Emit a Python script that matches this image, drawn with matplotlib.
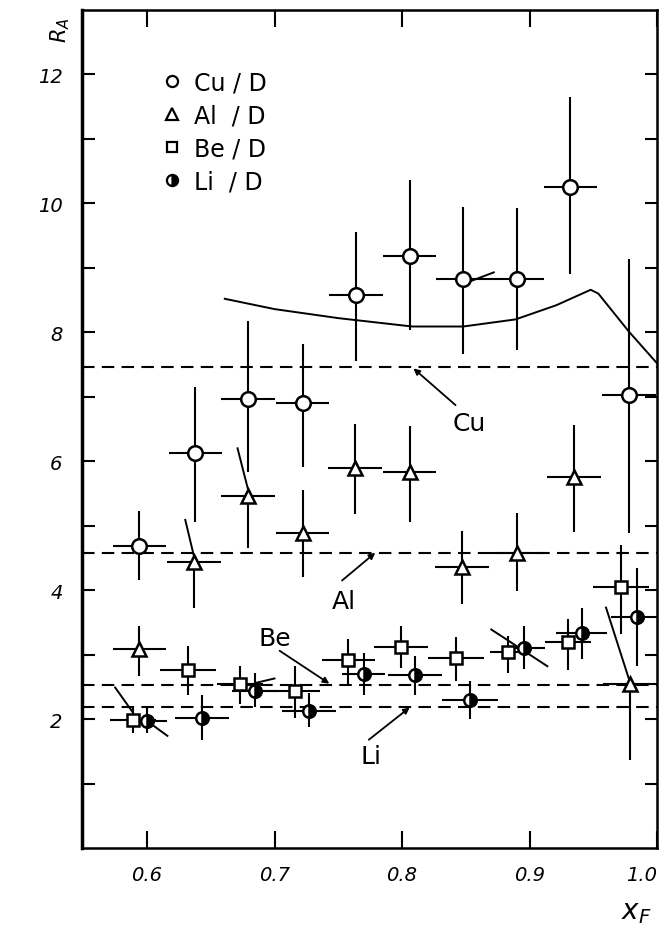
import matplotlib
matplotlib.use("Agg")
import matplotlib.pyplot as plt
from matplotlib.lines import Line2D
import numpy as np

plt.rcParams['font.family'] = ['DejaVu Sans']

# ---------------- data ----------------
cu_x = [0.594, 0.638, 0.679, 0.722, 0.764, 0.806, 0.848, 0.890, 0.932, 0.978]
cu_y = [4.69, 6.12, 6.96, 6.90, 8.58, 9.18, 8.82, 8.83, 10.26, 7.03]
cu_up = [0.54, 1.03, 1.21, 0.92, 0.97, 1.19, 1.12, 1.10, 1.39, 2.10]
cu_lo = [0.53, 1.06, 1.13, 0.99, 1.03, 1.14, 1.16, 1.10, 1.36, 2.15]
cu_xe = [0.021] * 10

al_x = [0.594, 0.637, 0.679, 0.722, 0.763, 0.806, 0.847, 0.890, 0.935, 0.979]
al_y = [3.08, 4.44, 5.46, 4.88, 5.90, 5.84, 4.36, 4.58, 5.76, 2.54]
al_up = [0.36, 0.0, 0.0, 0.68, 0.67, 0.70, 0.56, 0.61, 0.80, 0.0]
al_lo = [0.41, 0.71, 0.80, 0.68, 0.72, 0.78, 0.58, 0.59, 0.86, 1.17]
al_xe = [0.021] * 10

be_x = [0.589, 0.632, 0.673, 0.716, 0.758, 0.799, 0.842, 0.883, 0.930, 0.972]
be_y = [1.99, 2.76, 2.55, 2.44, 2.91, 3.12, 2.95, 3.04, 3.19, 4.05]
be_up = [0.19, 0.37, 0.27, 0.38, 0.33, 0.33, 0.33, 0.25, 0.37, 0.65]
be_lo = [0.20, 0.39, 0.32, 0.42, 0.37, 0.32, 0.36, 0.32, 0.43, 0.73]
be_xe = [0.018, 0.022, 0.018, 0.020, 0.021, 0.021, 0.022, 0.014, 0.018, 0.022]

li_x = [0.600, 0.643, 0.685, 0.727, 0.770, 0.810, 0.853, 0.896, 0.941, 0.984]
li_y = [1.97, 2.02, 2.44, 2.13, 2.70, 2.68, 2.29, 3.11, 3.33, 3.59]
li_up = [0.20, 0.35, 0.28, 0.28, 0.33, 0.30, 0.30, 0.33, 0.40, 0.75]
li_lo = [0.18, 0.34, 0.26, 0.26, 0.32, 0.30, 0.29, 0.33, 0.40, 0.77]
li_xe = [0.016, 0.021, 0.018, 0.021, 0.017, 0.021, 0.022, 0.016, 0.020, 0.020]

# theoretical curve (Cu)
curve_x = [0.661, 0.700, 0.750, 0.808, 0.848, 0.889, 0.921, 0.948, 0.954, 0.978, 1.000]
curve_y = [8.52, 8.36, 8.22, 8.09, 8.09, 8.20, 8.42, 8.66, 8.60, 8.01, 7.52]

# horizontal reference levels
levels = {'Cu': 7.46, 'Al': 4.58, 'Be': 2.53, 'Li': 2.19}

# slanted side strokes (x0, x1, y0, y1)
slants = [
    (0.630, 0.637, 5.09, 4.51),
    (0.671, 0.679, 6.20, 5.58),
    (0.575, 0.589, 2.49, 2.10),
    (0.600, 0.616, 1.97, 1.74),
    (0.685, 0.700, 2.56, 2.63),
    (0.870, 0.914, 3.39, 2.82),
    (0.960, 0.978, 3.73, 2.62),
    (0.852, 0.872, 8.78, 8.93),
]

# level labels: (text, text_x, text_y, tail_x, tail_y, head_x, head_y)
labels = [
    ('Cu', 0.853, 6.60, 0.842, 6.87, 0.809, 7.44),
    ('Al', 0.754, 3.83, 0.753, 4.15, 0.779, 4.58),
    ('Be', 0.700, 3.25, 0.704, 3.06, 0.743, 2.55),
    ('Li', 0.776, 1.42, 0.774, 1.68, 0.806, 2.18),
]

# ---------------- figure ----------------
fig = plt.figure(figsize=(6.59, 9.28), dpi=100)
ax = fig.add_axes([82 / 659, 1 - 849 / 928, 575 / 659, 838 / 928])
ax.set_xlim(0.549, 1.0)
ax.set_ylim(0, 13.0)

for name, lv in levels.items():
    ax.axhline(lv, color='k', lw=1.5, ls=(0, (6, 3.5)), zorder=1)

ax.plot(curve_x, curve_y, color='k', lw=1.4, zorder=2)

for x0, x1, y0, y1 in slants:
    ax.plot([x0, x1], [y0, y1], color='k', lw=1.4, zorder=2)

ebkw = dict(color='k', ecolor='k', elinewidth=1.5, capsize=0, ls='none',
            mec='k', mew=1.8, zorder=3)
ax.errorbar(cu_x, cu_y, yerr=[cu_lo, cu_up], xerr=cu_xe, fmt='o', ms=10.5,
            mfc='white', **ebkw)
ax.errorbar(al_x, al_y, yerr=[al_lo, al_up], xerr=al_xe, fmt='^', ms=10,
            mfc='white', **ebkw)
ax.errorbar(be_x, be_y, yerr=[be_lo, be_up], xerr=be_xe, fmt='s', ms=8.5,
            mfc='white', **ebkw)
ax.errorbar(li_x, li_y, yerr=[li_lo, li_up], xerr=li_xe, fmt='o', ms=9,
            mfc='k', fillstyle='right', markerfacecoloralt='white', **ebkw)

for txt, tx, ty, x0, y0, x1, y1 in labels:
    ax.annotate('', xy=(x1, y1), xytext=(x0, y0),
                arrowprops=dict(arrowstyle='-|>', color='k', lw=1.3,
                                mutation_scale=9, shrinkA=0, shrinkB=0))
    ax.text(tx, ty, txt, fontsize=18, ha='center', va='center')

# legend
handles = [
    Line2D([], [], ls='none', marker='o', ms=8, mfc='white', mec='k', mew=1.6),
    Line2D([], [], ls='none', marker='^', ms=8, mfc='white', mec='k', mew=1.6),
    Line2D([], [], ls='none', marker='s', ms=7, mfc='white', mec='k', mew=1.6),
    Line2D([], [], ls='none', marker='o', ms=8, mfc='k', fillstyle='right',
           markerfacecoloralt='white', mec='k', mew=1.6),
]
leg_labels = ['Cu / D', 'Al  / D', 'Be / D', 'Li  / D']
ax.legend(handles, leg_labels, loc='upper left', bbox_to_anchor=(0.12, 0.942),
          frameon=False, fontsize=17, handlelength=0.8, handletextpad=0.5,
          labelspacing=0.38, borderpad=0)

# ticks
ax.set_xticks([0.6, 0.7, 0.8, 0.9, 1.0])
ax.set_xticklabels(['0.6', '0.7', '0.8', '0.9', '1.0'], fontstyle='italic', fontsize=14)
ax.get_xticklabels()[-1].set_horizontalalignment('right')
ax.set_yticks(range(1, 13))
ax.set_yticklabels(['' if v % 2 else str(v) for v in range(1, 13)],
                   fontstyle='italic', fontsize=14)
ax.tick_params(axis='both', direction='in', top=True, right=True, width=1.5)
ax.tick_params(axis='x', length=12, pad=12)
ax.tick_params(axis='y', length=9, pad=14)

for s in ax.spines.values():
    s.set_linewidth(1.8)
ax.spines['left'].set_linewidth(2.5)

fig.text(60 / 659, 1 - 30 / 928, r'$R_A$', rotation=90, fontsize=15,
         ha='center', va='center', fontstyle='italic')
fig.text(636 / 659, 1 - 912 / 928, r'$x_F$', fontsize=20,
         ha='center', va='center', fontstyle='italic')

fig.savefig('out.png', dpi=100)
